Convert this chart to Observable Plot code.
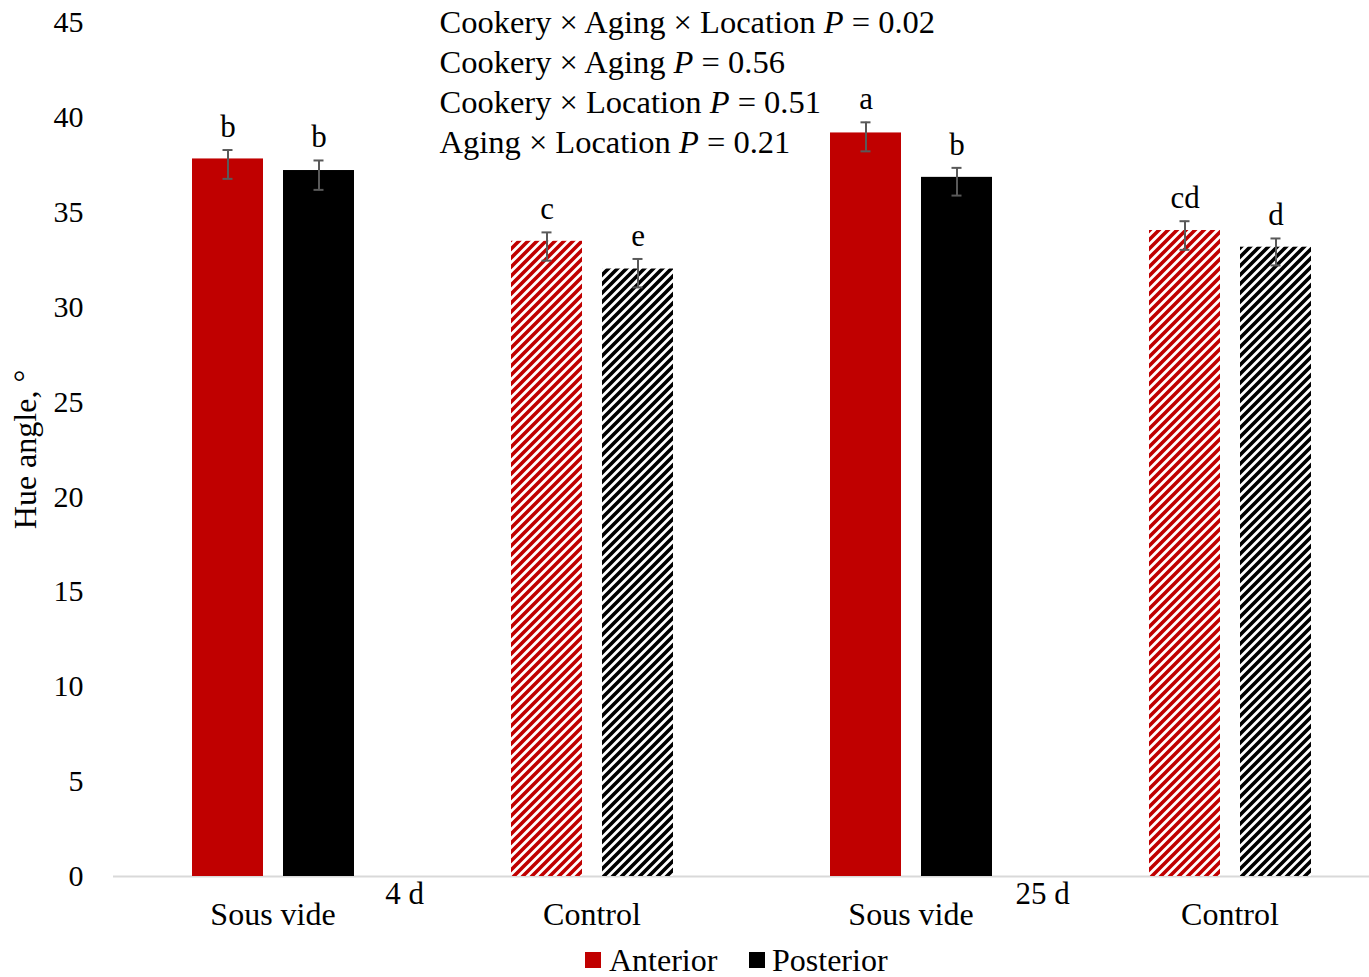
<!DOCTYPE html>
<html>
<head>
<meta charset="utf-8">
<script src="https://cdn.jsdelivr.net/npm/d3@7"></script>
<script src="https://cdn.jsdelivr.net/npm/@observablehq/plot@0.6"></script>
<style>
  html, body { margin: 0; padding: 0; background: #fff; overflow: hidden; }
  #chart { width: 1369px; }
  #legend { position: relative; height: 37px; font-family: "Liberation Serif", serif; font-size: 32px; color: #000; }
  .sw { position: absolute; top: 12px; width: 16px; height: 16px; }
  .lt { position: absolute; top: 2px; line-height: 37px; }
</style>
</head>
<body>
<div id="chart"></div>
<div id="legend">
  <div class="sw" style="left:585px;background:#C00000"></div><div class="lt" style="left:609px">Anterior</div>
  <div class="sw" style="left:749px;background:#000000"></div><div class="lt" style="left:772px">Posterior</div>
</div>
<script>
// ---- data ----
const agings = ["4 d", "25 d"];
const cookeries = ["Sous vide", "Control"];
const locations = ["Anterior", "Posterior"];
// order of groups: Sous vide 4 d, Control 4 d, Sous vide 25 d, Control 25 d
const hueAnterior   = [37.81, 33.47, 39.18, 34.04];
const huePosterior  = [37.20, 32.01, 36.84, 33.16];
const errUpAnterior    = [0.47, 0.47, 0.56, 0.49];
const errDownAnterior  = [1.05, 1.02, 0.97, 1.02];
const errUpPosterior   = [0.53, 0.53, 0.50, 0.46];
const errDownPosterior = [1.02, 0.97, 0.96, 0.96];
const lettersAnterior  = ["b", "c", "a", "cd"];
const lettersPosterior = ["b", "e", "b", "d"];
const yTicks = [0, 5, 10, 15, 20, 25, 30, 35, 40, 45];
const pLines = [
  "Cookery × Aging × Location P = 0.02",
  "Cookery × Aging P = 0.56",
  "Cookery × Location P = 0.51",
  "Aging × Location P = 0.21"
];
const locColors = ["#C00000", "#000000"];

// ---- table ----
const groups = [];
agings.forEach(a => cookeries.forEach(c => groups.push({aging: a, cookery: c, key: c + "|" + a})));
const rows = [];
groups.forEach((g, i) => {
  rows.push({group: g.key, cookery: g.cookery, aging: g.aging, location: "Anterior",
    value: hueAnterior[i], up: errUpAnterior[i], down: errDownAnterior[i], letter: lettersAnterior[i]});
  rows.push({group: g.key, cookery: g.cookery, aging: g.aging, location: "Posterior",
    value: huePosterior[i], up: errUpPosterior[i], down: errDownPosterior[i], letter: lettersPosterior[i]});
});
const solid = rows.filter(d => d.cookery === "Sous vide");
const hatchA = rows.filter(d => d.cookery === "Control" && d.location === "Anterior");
const hatchP = rows.filter(d => d.cookery === "Control" && d.location === "Posterior");

const font = "Liberation Serif, Times New Roman, serif";

const plot = Plot.plot({
  width: 1369,
  height: 940,
  marginLeft: 113,
  marginRight: -20,
  marginTop: 22,
  marginBottom: 64,
  style: {fontFamily: font, fontSize: "30px", background: "white", color: "#000", overflow: "visible"},
  fx: {domain: groups.map(g => g.key), padding: 0, axis: "bottom", label: null,
       tickFormat: k => k.split("|")[0], tickSize: 0, tickPadding: 26},
  x: {domain: locations, axis: null, paddingInner: 0.22, paddingOuter: 0.8626},
  y: {domain: [0, 45], ticks: yTicks, tickSize: 0, tickPadding: 30,
      label: "Hue angle, °", labelAnchor: "center", labelOffset: 100, labelArrow: "none"},
  color: {domain: locations, range: locColors},
  marks: [
    Plot.ruleY([0], {stroke: "#D9D9D9", strokeWidth: 2}),
    Plot.barY(solid, {fx: "group", x: "location", y: "value", fill: "location"}),
    Plot.barY(hatchA, {fx: "group", x: "location", y: "value", fill: "url(#hatchRed)"}),
    Plot.barY(hatchP, {fx: "group", x: "location", y: "value", fill: "url(#hatchBlack)"}),
    Plot.ruleX(rows, {fx: "group", x: "location", y1: d => d.value - d.down, y2: d => d.value + d.up,
      stroke: "#595959", strokeWidth: 2}),
    Plot.tickY(rows, {fx: "group", x: "location", y: d => d.value + d.up, stroke: "#595959", strokeWidth: 2,
      insetLeft: 30.5, insetRight: 30.5}),
    Plot.tickY(rows, {fx: "group", x: "location", y: d => d.value - d.down, stroke: "#595959", strokeWidth: 2,
      insetLeft: 30.5, insetRight: 30.5}),
    Plot.text(rows, {fx: "group", x: "location", y: d => d.value + d.up, text: "letter",
      dy: -13, lineAnchor: "bottom", fontSize: 31, fill: "#000"}),
    Plot.text(agings, {fx: a => "Control|" + a, frameAnchor: "bottom-left", text: d => d,
      dx: -28, dy: 18, textAnchor: "middle", lineAnchor: "middle", fontSize: 31, fill: "#000"}),
    ...pLines.map((t, i) => Plot.text([t], {fx: () => "Control|4 d", frameAnchor: "top-left", text: d => d,
      dx: 7, dy: i * 40, textAnchor: "start", lineAnchor: "middle", fontSize: 32.5, fill: "#000"}))
  ]
});

const svg = d3.select(plot);
svg.insert("defs", ":first-child").html(`
  <pattern id="hatchRed" patternUnits="userSpaceOnUse" width="9" height="9">
    <rect width="9" height="9" fill="#fff"/>
    <path d="M-2.25,2.25 l4.5,-4.5 M0,9 l9,-9 M6.75,11.25 l4.5,-4.5" stroke="#C00000" stroke-width="3.6"/>
  </pattern>
  <pattern id="hatchBlack" patternUnits="userSpaceOnUse" width="9" height="9">
    <rect width="9" height="9" fill="#fff"/>
    <path d="M-2.25,2.25 l4.5,-4.5 M0,9 l9,-9 M6.75,11.25 l4.5,-4.5" stroke="#000" stroke-width="3.6"/>
  </pattern>`);

svg.selectAll("text").each(function() {
  const el = d3.select(this);
  if (el.selectAll("tspan").size() > 0) return;
  const t = el.text();
  if (t === "Sous vide" || t === "Control") { el.attr("font-size", 32); return; }
  if (t.startsWith("Hue angle")) { el.attr("font-size", 32); return; }
  const idx = t.lastIndexOf("P = ");
  if (idx < 0) return;
  el.text(null);
  el.append("tspan").text(t.slice(0, idx));
  el.append("tspan").attr("font-style", "italic").text("P");
  el.append("tspan").text(t.slice(idx + 1));
});

document.getElementById("chart").appendChild(plot);
</script>
</body>
</html>
